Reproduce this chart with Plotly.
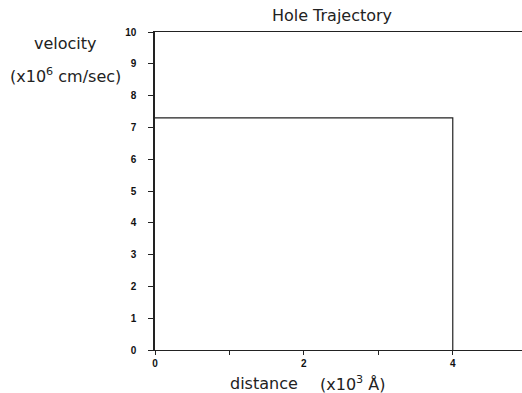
import plotly.graph_objects as go

# Trajectory of the hole: constant velocity, then stops at the boundary
distance = [0, 4, 4]          # x10^3 Angstrom
velocity = [7.3, 7.3, 0]      # x10^6 cm/sec

x_tickvals = [0, 2, 4]
x_ticktext = ["0", "2", "4"]
y_tickvals = list(range(0, 11))
y_ticktext = [str(v) for v in y_tickvals]

fig = go.Figure()
fig.add_trace(go.Scatter(
    x=distance, y=velocity, mode="lines",
    line=dict(color="#222222", width=1.2),
    showlegend=False, hoverinfo="skip",
))

tick_font = dict(family="Liberation Sans, Arial", size=10, color="#111111", weight="bold")
label_font = dict(family="DejaVu Sans, Liberation Sans", size=16, color="#222222")

fig.update_layout(
    width=522, height=393,
    margin=dict(l=155, r=0, t=32, b=43),
    paper_bgcolor="white", plot_bgcolor="white",
    title=dict(text="Hole Trajectory", font=label_font,
               x=332 / 522, xref="container", xanchor="center",
               y=1 - 15 / 393, yref="container", yanchor="middle"),
    xaxis=dict(
        range=[0, 4.93], showgrid=False, zeroline=False,
        showline=True, linecolor="#222222", linewidth=1.3, mirror=True,
        ticks="outside", ticklen=4, tickcolor="#222222",
        tickvals=x_tickvals, ticktext=x_ticktext, tickfont=tick_font,
        minor=dict(tickvals=[1, 3], ticks="outside", ticklen=4,
                   tickcolor="#222222", showgrid=False),
    ),
    yaxis=dict(
        range=[0, 10], showgrid=False, zeroline=False,
        showline=True, linecolor="#222222", linewidth=1.5,
        ticks="outside", ticklen=5, tickcolor="#222222",
        tickvals=y_tickvals, ticktext=y_ticktext, tickfont=tick_font,
        ticklabelstandoff=10,
    ),
    annotations=[
        dict(text="velocity", xref="paper", yref="paper",
             x=-0.245, y=0.965, xanchor="center", yanchor="middle",
             showarrow=False, font=label_font),
        dict(text="(x10<sup>6</sup> cm/sec)", xref="paper", yref="paper",
             x=-0.245, y=0.862, xanchor="center", yanchor="middle",
             showarrow=False, font=label_font),
        dict(text="distance", xref="paper", yref="paper",
             x=0.297, y=-0.104, xanchor="center", yanchor="middle",
             showarrow=False, font=label_font),
        dict(text="(x10<sup>3</sup> Å)", xref="paper", yref="paper",
             x=0.537, y=-0.104, xanchor="center", yanchor="middle",
             showarrow=False, font=label_font),
    ],
)

fig.write_html("out.html")
